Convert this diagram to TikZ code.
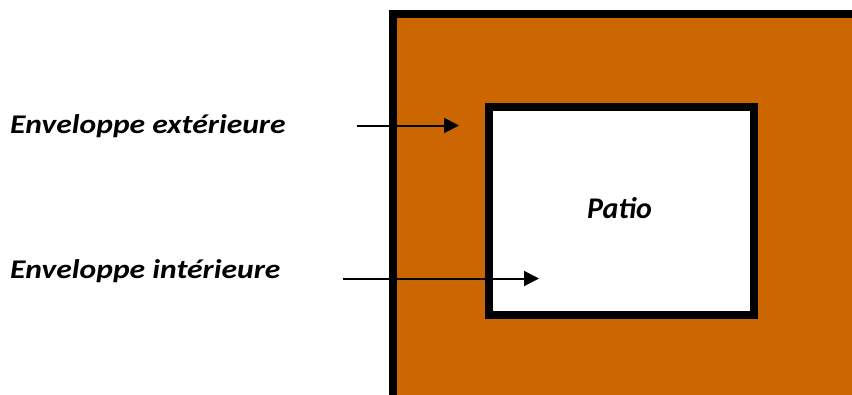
\documentclass[tikz,border=0pt]{standalone}
\usepackage{fontspec}
\setmainfont{Carlito}
\usetikzlibrary{arrows.meta}
\definecolor{wallorange}{RGB}{204,102,0}
\newcommand{\widetxt}[1]{\scalebox{1.17}[1]{#1}}
\tikzset{
  lbl/.style={font=\fontsize{27}{30}\selectfont\bfseries\itshape, anchor=base west, inner sep=0pt},
  ptr/.style={line width=2pt, -{Triangle[length=15pt,width=15pt]}},
}
\begin{document}
\begin{tikzpicture}[x=1pt,y=-1pt]
\useasboundingbox (0,0) rectangle (852,394);
\clip (0,0) rectangle (852,394);
\fill[white] (0,0) rectangle (852,394);
\draw[line width=8pt, fill=wallorange] (393,14) rectangle (870,410);
\draw[line width=8pt, fill=white] (489,106.5) rectangle (754,314.5);
\node (patio) [font=\fontsize{30}{34}\selectfont\bfseries\itshape, anchor=base, inner sep=0pt] at (619.5,218) {Patio};
\node (ext) [lbl] at (10,133) {\widetxt{Enveloppe extérieure}};
\node (int) [lbl] at (10,278) {\widetxt{Enveloppe intérieure}};
\coordinate (e1) at (357,125.5);
\coordinate (e2) at (459,125.5);
\coordinate (i1) at (343,278.5);
\coordinate (i2) at (539,278.5);
\draw[ptr] (e1) -- (e2);
\draw[ptr] (i1) -- (i2);
\end{tikzpicture}
\end{document}
